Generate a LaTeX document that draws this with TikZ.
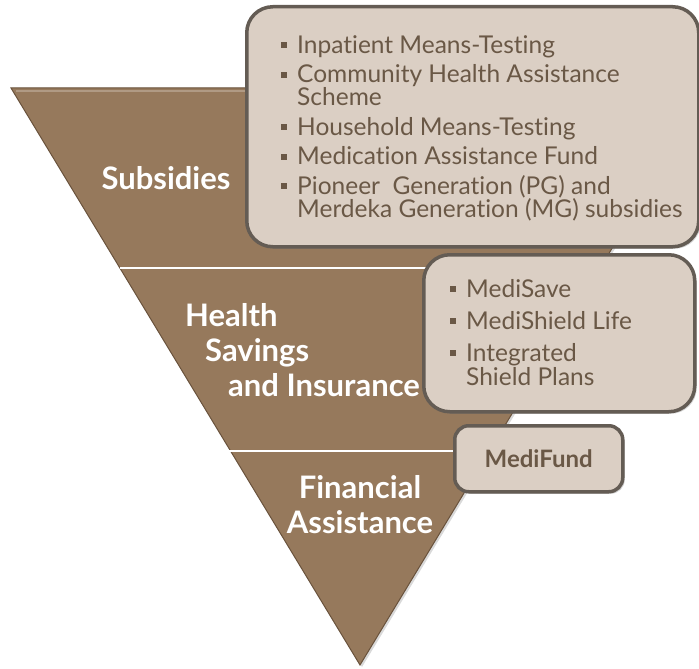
\documentclass[tikz,border=0pt]{standalone}
\usepackage{fontspec}
\setmainfont{Lato}[Ligatures=CommonOff]
\usetikzlibrary{shadows,positioning}

\definecolor{funnel}{RGB}{150,121,92}
\definecolor{funnelrim}{RGB}{105,82,60}
\definecolor{boxfill}{RGB}{219,207,196}
\definecolor{boxrim}{RGB}{100,92,84}
\definecolor{boxtext}{RGB}{106,88,70}

\tikzset{
  panel/.style={draw=boxrim, line width=3.5pt, fill=boxfill, rounded corners=26pt,
    drop shadow={opacity=0.35, shadow xshift=2pt, shadow yshift=-2pt}},
  tier/.style={text=white, font=\bfseries\fontsize{31}{35}\selectfont, inner sep=0pt},
  bullets/.style={text=boxtext, font=\fontsize{24.5}{23}\selectfont, align=left,
    anchor=north west, inner sep=0pt},
  divider/.style={draw=gray!60, line width=2.5pt,
    postaction={draw=white, line width=1.5pt}},
}
% square bullet used in the lists
\newcommand{\bul}{\makebox[16pt][l]{\raisebox{5pt}{\rule{6pt}{6pt}}}}
\newcommand{\cont}{\hspace*{16pt}}

\begin{document}
\begin{tikzpicture}[x=1pt, y=-1pt]
  \useasboundingbox (0,0) rectangle (699,669);
  \clip (0,0) rectangle (699,669);

  % the funnel
  \fill[funnel, draw=funnelrim, line width=1pt,
    drop shadow={opacity=0.3, shadow xshift=2pt, shadow yshift=-2pt}]
    (11,88) -- (709,88) -- (360,665) -- cycle;
  \draw[white, opacity=0.25, line width=2pt] (16,91) -- (700,91);
  \draw[divider] (120,268) -- (430,268);
  \draw[divider] (220,451) -- (460,451);

  % tier labels
  \node[tier] (sub) at (166,178) {Subsidies};
  \node[tier, align=left, anchor=west] (hsi) at (185,350)
    {Health\\\hspace*{20pt}Savings\\\hspace*{43pt}and Insurance};
  \node[tier, align=center] (fa) at (360,505) {Financial\\Assistance};

  % subsidy schemes
  \node[panel, anchor=north west, minimum width=452pt, minimum height=240pt] (subbox) at (245,5) {};
  \node[bullets] (sublist) at (281,35)
    {\bul Inpatient Means-Testing\\[6.5pt]
     \bul Community Health Assistance\\
     \cont Scheme\\[6.5pt]
     \bul Household Means-Testing\\[6.5pt]
     \bul Medication Assistance Fund\\[6.5pt]
     \bul Pioneer\ \ Generation (PG) and\\
     \cont Merdeka Generation (MG) subsidies};

  % savings and insurance schemes
  \node[panel, anchor=north west, minimum width=271pt, minimum height=157pt] (hsibox) at (422,253) {};
  \node[bullets, font=\fontsize{24.5}{24}\selectfont] (hsilist) at (450,279)
    {\bul MediSave\\[8pt]
     \bul MediShield Life\\[8pt]
     \bul Integrated\\
     \cont Shield Plans};

  % financial assistance
  \node[panel, rounded corners=14pt, anchor=north west, minimum width=168pt, minimum height=66pt] (fabox) at (453,424) {};
  \node[text=boxtext, font=\bfseries\fontsize{24}{26}\selectfont] (fund) at (fabox.center) {MediFund};
\end{tikzpicture}
\end{document}
